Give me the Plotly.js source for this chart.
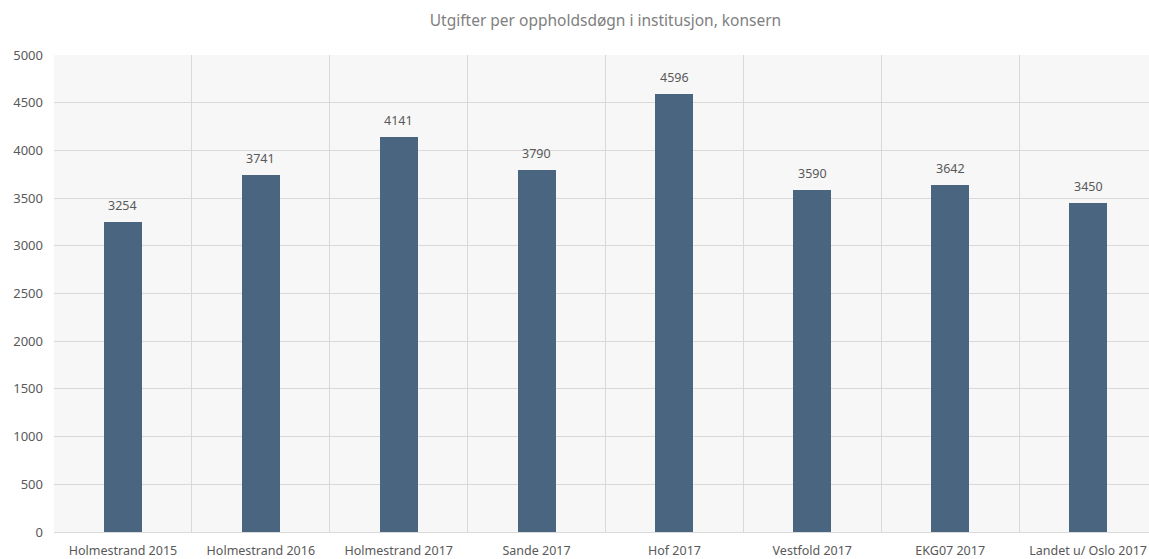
<!DOCTYPE html>
<html><head><meta charset="utf-8">
<script src="https://cdn.plot.ly/plotly-3.0.1.min.js"></script>
<style>html,body{margin:0;padding:0;overflow:hidden;background:#fff}</style>
</head><body><div id="chart"></div>
<script>
const categories = ["Holmestrand 2015","Holmestrand 2016","Holmestrand 2017","Sande 2017","Hof 2017","Vestfold 2017","EKG07 2017","Landet u/ Oslo 2017"];
const values = [3254,3741,4141,3790,4596,3590,3642,3450];
const yTicks = [0,500,1000,1500,2000,2500,3000,3500,4000,4500,5000];

const font = "Noto Sans, Open Sans, sans-serif";
Plotly.newPlot('chart', [{
  type: 'bar', x: categories, y: values,
  marker: {color: '#4a6580'}, width: 0.276,
  hoverinfo: 'x+y'
}], {
  width: 1163, height: 559,
  margin: {l: 54, r: 6, t: 55, b: 27},
  paper_bgcolor: '#ffffff', plot_bgcolor: '#f7f7f7',
  title: {text: 'Utgifter per oppholdsdøgn i institusjon, konsern', x: 0.5, xref: 'paper', y: 0.963, yanchor: 'middle',
    font: {family: font, size: 15.5, color: '#808080'}},
  xaxis: {type: 'category', tickson: 'boundaries', showgrid: true, gridcolor: '#d9d9d9', gridwidth: 1,
    ticks: '', ticklabelstandoff: 7, tickfont: {family: font, size: 12.5, color: '#595959'}, showline: true, linecolor: '#d9d9d9',
    range: [-0.5, 7.5], fixedrange: true},
  yaxis: {range: [0, 5000], tickvals: yTicks, ticktext: yTicks.map(String), showgrid: true, gridcolor: '#d9d9d9',
    zeroline: false, ticks: '', ticklabelstandoff: 10, tickfont: {family: font, size: 13, color: '#595959'}},
  annotations: values.map((v, i) => ({x: categories[i], y: v, xref: 'x', yref: 'y', text: String(v),
    showarrow: false, yanchor: 'bottom', yshift: 6, font: {family: font, size: 12.5, color: '#595959'}})),
  showlegend: false, bargap: 0
}, {displayModeBar: false, staticPlot: true});
</script></body></html>
